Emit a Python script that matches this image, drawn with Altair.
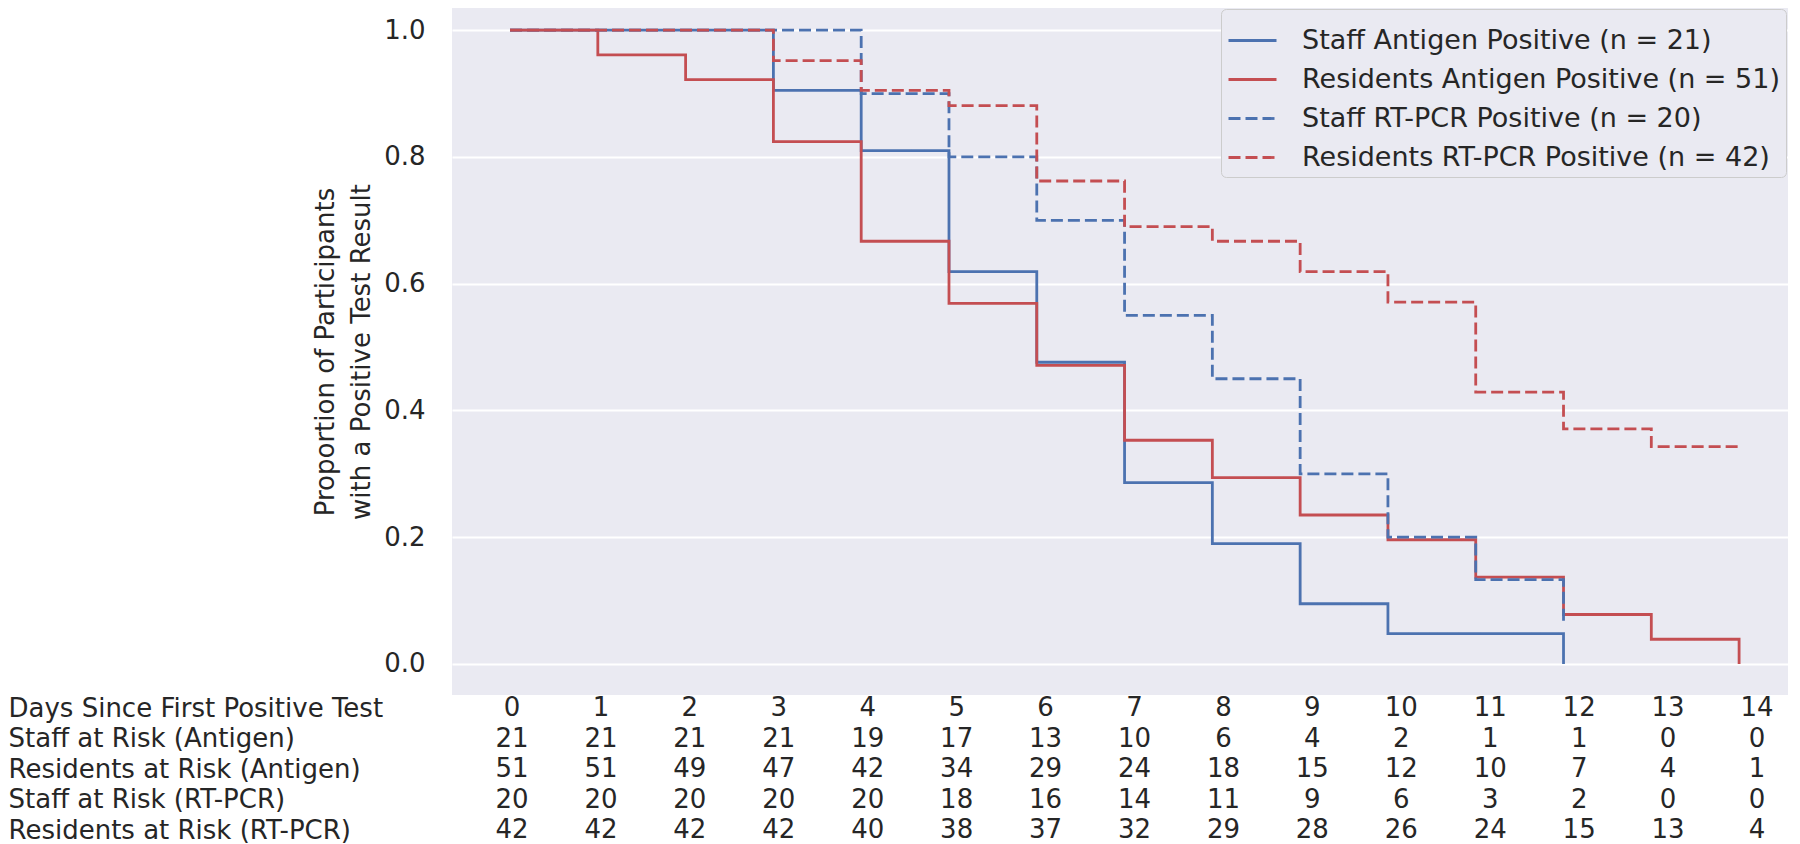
import altair as alt
import pandas as pd

# ---------------- data ----------------
days = list(range(15))

series_names = [
    "Staff Antigen Positive (n = 21)",
    "Residents Antigen Positive (n = 51)",
    "Staff RT-PCR Positive (n = 20)",
    "Residents RT-PCR Positive (n = 42)",
]

# proportion still positive (step curves), starting at day 0
staff_antigen = [1.0, 1.0, 1.0, 0.905, 0.810, 0.619, 0.476, 0.286, 0.190, 0.095, 0.048, 0.048, 0.0]
residents_antigen = [1.0, 0.961, 0.922, 0.824, 0.667, 0.569, 0.471, 0.353, 0.294, 0.235, 0.196, 0.137, 0.078, 0.039, 0.0]
staff_pcr = [1.0, 1.0, 1.0, 1.0, 0.90, 0.80, 0.70, 0.55, 0.45, 0.30, 0.20, 0.133, 0.067]
residents_pcr = [1.0, 1.0, 1.0, 0.952, 0.905, 0.881, 0.762, 0.690, 0.667, 0.619, 0.571, 0.429, 0.371, 0.343, 0.343]

# at-risk table
row_labels = [
    "Days Since First Positive Test",
    "Staff at Risk (Antigen)",
    "Residents at Risk (Antigen)",
    "Staff at Risk (RT-PCR)",
    "Residents at Risk (RT-PCR)",
]
staff_risk_antigen = [21, 21, 21, 21, 19, 17, 13, 10, 6, 4, 2, 1, 1, 0, 0]
residents_risk_antigen = [51, 51, 49, 47, 42, 34, 29, 24, 18, 15, 12, 10, 7, 4, 1]
staff_risk_pcr = [20, 20, 20, 20, 20, 18, 16, 14, 11, 9, 6, 3, 2, 0, 0]
residents_risk_pcr = [42, 42, 42, 42, 40, 38, 37, 32, 29, 28, 26, 24, 15, 13, 4]

y_ticks = [0.0, 0.2, 0.4, 0.6, 0.8, 1.0]

# ---------------- tables ----------------
curve_rows = []
for name, vals in zip(series_names, [staff_antigen, residents_antigen, staff_pcr, residents_pcr]):
    for d, v in zip(days, vals):
        curve_rows.append({"series": name, "day": d, "value": v})
curve_df = pd.DataFrame(curve_rows)

table_rows = []
for label, vals in zip(row_labels, [days, staff_risk_antigen, residents_risk_antigen, staff_risk_pcr, residents_risk_pcr]):
    for d, v in zip(days, vals):
        table_rows.append({"row": label, "day": d, "count": str(v)})
table_df = pd.DataFrame(table_rows)

# ---------------- style ----------------
FONT = "DejaVu Sans"
TXT = "#262626"
BLUE = "#4C72B0"
RED = "#C44E52"
FS = 26

legend_kw = dict(
    orient="none", legendX=769, legendY=1, title=None,
    labelFontSize=27, labelFont=FONT, labelColor=TXT, labelLimit=0,
    symbolType="stroke", symbolStrokeWidth=2.8, symbolSize=2304,
    fillColor="#EAEAF2", strokeColor="#CCCCCC", cornerRadius=5,
    padding=6, labelOffset=24, rowPadding=-1,
)

lines = alt.Chart(curve_df).mark_line(interpolate="step-after", strokeWidth=2.8).encode(
    x=alt.X("day:Q", scale=alt.Scale(domain=[-0.661, 14.557], nice=False, zero=False), axis=None),
    y=alt.Y(
        "value:Q",
        scale=alt.Scale(domain=[-0.049, 1.035], nice=False, zero=False),
        axis=alt.Axis(
            values=y_ticks, format=".1f",
            title=["Proportion of Participants", "with a Positive Test Result"],
            titleFontSize=FS, titleFont=FONT, titleColor=TXT, titleFontWeight="normal",
            titleLineHeight=36, titlePadding=9,
            labelFontSize=FS, labelFont=FONT, labelColor=TXT, labelPadding=27,
            ticks=False, domain=False, grid=True, gridColor="white", gridWidth=2,
        ),
    ),
    color=alt.Color("series:N", scale=alt.Scale(domain=series_names, range=[BLUE, RED, BLUE, RED]),
                    legend=alt.Legend(**legend_kw)),
    strokeDash=alt.StrokeDash("series:N",
                              scale=alt.Scale(domain=series_names, range=[[1, 0], [1, 0], [12, 5], [12, 5]]),
                              legend=alt.Legend(**legend_kw)),
)

table = alt.Chart(table_df).mark_text(fontSize=FS, font=FONT, color=TXT, baseline="middle", align="center").encode(
    x=alt.X("day:Q", scale=alt.Scale(domain=[0, 14], range=[60, 1305], nice=False, zero=False), axis=None),
    y=alt.Y(
        "row:N",
        scale=alt.Scale(type="point", domain=row_labels, range=[700, 822], padding=0),
        axis=alt.Axis(
            orient="left", labelAlign="left", labelPadding=444, labelBaseline="middle",
            labelFontSize=FS, labelFont=FONT, labelColor=TXT, labelLimit=0,
            domain=False, ticks=False, grid=False, title=None,
        ),
    ),
    text="count:N",
)

chart = (
    alt.layer(lines, table)
    .resolve_scale(x="independent", y="independent")
    .properties(width=1336, height=687, padding=0, background="white")
    .configure_view(fill="#EAEAF2", stroke=None)
)

chart.save("out.html", embed_options={"renderer": "svg", "actions": False})
